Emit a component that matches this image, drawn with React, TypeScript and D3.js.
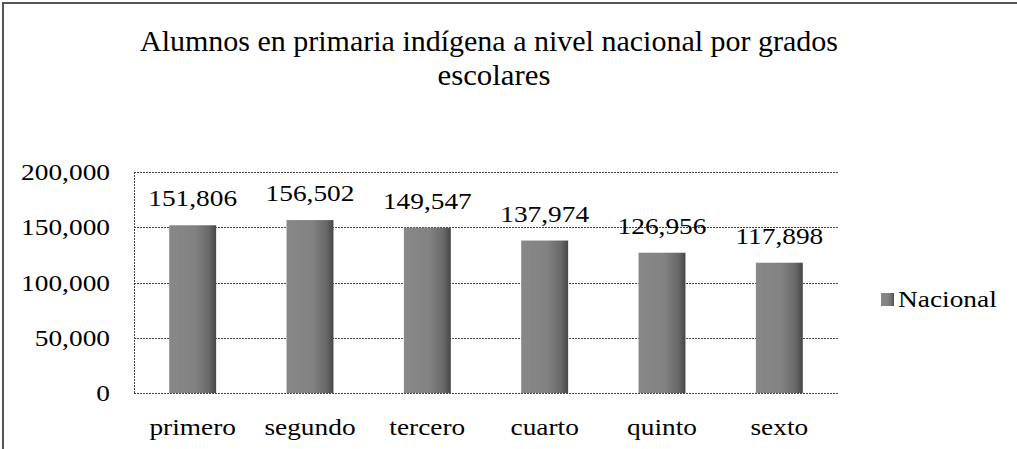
import React from 'react';
import * as d3 from 'd3';

// data
const grados = ['primero', 'segundo', 'tercero', 'cuarto', 'quinto', 'sexto'];
const nacional = [151806, 156502, 149547, 137974, 126956, 117898];
const yTicks = [0, 50000, 100000, 150000, 200000];
const titleLines = ['Alumnos en primaria indígena a nivel nacional por grados', 'escolares'];
const seriesName = 'Nacional';

const W = 1017;
const H = 449;
const SX = 1.19; // text in the picture is stretched sideways
const FS = 23;

const plot = { left: 134, right: 838, top: 172, bottom: 393 };
const x = d3.scaleBand().domain(grados).range([plot.left, plot.right]).paddingInner(0.6).paddingOuter(0.3);
const y = d3.scaleLinear().domain([0, 200000]).range([plot.bottom, plot.top]);
const fmt = d3.format(',');

// stretched label
const Lab = ({ x: px, y: py, anchor, children }) => (
  <g transform={`translate(${px},${py}) scale(${SX},1)`}>
    <text textAnchor={anchor} fontSize={FS} fill="#000">{children}</text>
  </g>
);

const App = () => {
  const bw = x.bandwidth();
  return (
    <svg width={W} height={H} fontFamily="Liberation Serif, serif"
      style={{ position: 'absolute', left: 0, top: 0, display: 'block' }}>
      <defs>
        <linearGradient id="barGrad" x1="0" x2="1" y1="0" y2="0">
          <stop offset="0%" stopColor="#888" />
          <stop offset="55%" stopColor="#828282" />
          <stop offset="85%" stopColor="#686868" />
          <stop offset="100%" stopColor="#464646" />
        </linearGradient>
      </defs>
      <rect width={W} height={H} fill="#fff" />

      {/* outer frame, only top and left are in the picture */}
      <path d={`M3,${H} L3,3 L${W},3`} fill="none" stroke="#555" strokeWidth={2} />

      {/* title */}
      <text x={140} y={51} fontSize={30} fill="#000" textLength={698} lengthAdjust="spacingAndGlyphs">
        {titleLines[0]}
      </text>
      <text x={(plot.left + plot.right) / 2 + 8} y={85} textAnchor="middle" fontSize={30} fill="#000"
        textLength={113} lengthAdjust="spacingAndGlyphs">
        {titleLines[1]}
      </text>

      {/* grid */}
      <g stroke="#444" strokeWidth={1} strokeDasharray="2,1">
        {yTicks.map(t => (
          <line key={t} x1={plot.left} x2={plot.right} y1={Math.round(y(t)) + 0.5} y2={Math.round(y(t)) + 0.5} />
        ))}
        <line x1={plot.left + 0.5} x2={plot.left + 0.5} y1={plot.top} y2={plot.bottom} />
      </g>

      {yTicks.map(t => (
        <Lab key={t} x={110} y={y(t) + 8} anchor="end">{fmt(t)}</Lab>
      ))}

      {nacional.map((v, i) => (
        <rect key={grados[i]} x={x(grados[i])} y={y(v)} width={bw} height={y(0) - y(v)} fill="url(#barGrad)" />
      ))}

      {nacional.map((v, i) => (
        <Lab key={grados[i]} x={x(grados[i]) + bw / 2} y={y(v) - 19} anchor="middle">{fmt(v)}</Lab>
      ))}

      {grados.map(c => (
        <Lab key={c} x={x(c) + bw / 2} y={435} anchor="middle">{c}</Lab>
      ))}

      {/* legend */}
      <rect x={881} y={293} width={13} height={13} fill="url(#barGrad)" />
      <Lab x={898} y={307} anchor="start">{seriesName}</Lab>
    </svg>
  );
};

export default App;
